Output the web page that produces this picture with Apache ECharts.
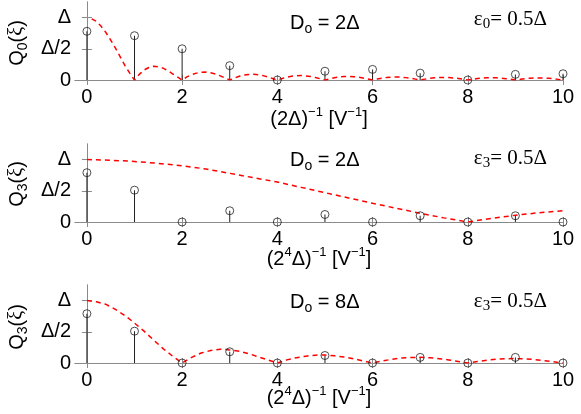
<!DOCTYPE html>
<html><head><meta charset="utf-8">
<script src="https://cdn.jsdelivr.net/npm/echarts@6/dist/echarts.min.js"></script>
<style>html,body{margin:0;padding:0;background:#fff}#c{width:581px;height:414px}</style>
</head><body><div id="c"></div>
<script>
// ---- data (values in units of Δ) ----
const stemX = [0,1,2,3,4,5,6,7,8,9,10];
const stem1 = [0.78,0.71,0.50,0.23,0.00,0.14,0.17,0.11,0.00,0.09,0.10];
const stem2 = [0.79,0.51,0.00,0.18,0.00,0.12,0.00,0.10,0.00,0.10,0.00];
const stem3 = [0.79,0.51,0.00,0.18,0.00,0.12,0.00,0.09,0.00,0.09,0.00];

// red dashed curves, sampled at the x positions given by start/step
const curve1Start = 0.1, curve1Step = 0.1;
const curve1 = [0.98,0.94,0.86,0.76,0.64,0.51,0.37,0.23,0.11,0.00,
  0.09,0.16,0.20,0.22,0.21,0.19,0.15,0.10,0.05,0.00,
  0.05,0.085,0.11,0.126,0.127,0.116,0.095,0.067,0.034,0.00,
  0.032,0.059,0.078,0.089,0.091,0.084,0.070,0.049,0.025,0.00,
  0.024,0.045,0.060,0.069,0.071,0.066,0.055,0.039,0.020,0.00,
  0.019,0.036,0.049,0.056,0.058,0.054,0.045,0.032,0.017,0.00,
  0.016,0.030,0.041,0.047,0.049,0.046,0.038,0.028,0.014,0.00,
  0.014,0.026,0.035,0.041,0.042,0.040,0.033,0.024,0.012,0.00,
  0.012,0.023,0.031,0.036,0.037,0.035,0.030,0.021,0.011,0.00,
  0.011,0.020,0.028,0.032,0.034,0.032,0.027,0.019,0.010,0.00];
const curve2Start = 0, curve2Step = 0.5;
const curve2 = [1.00,0.99,0.97,0.94,0.90,0.85,0.78,0.71,0.64,0.555,0.47,0.385,0.30,0.22,0.14,0.066,0.00,0.058,0.108,0.149,0.18];
const curve3Start = 0, curve3Step = 0.2;
const curve3 = [1.00,0.98,0.94,0.86,0.76,0.64,0.51,0.37,0.23,0.11,0.00,
  0.09,0.16,0.20,0.22,0.21,0.19,0.15,0.10,0.05,0.00,
  0.05,0.085,0.11,0.126,0.127,0.116,0.095,0.067,0.034,0.00,
  0.032,0.059,0.078,0.089,0.091,0.084,0.070,0.049,0.025,0.00,
  0.024,0.045,0.060,0.069,0.071,0.066,0.055,0.039,0.020,0.00];

const xTicks = [0,2,4,6,8,10];
const yTicks = [0,0.5,1];
const yTickLabels = {0:'0',0.5:'Δ/2',1:'Δ'};

// ---- layout ----
const FONT = 'Liberation Sans, Arial, Helvetica, sans-serif';
const SERIF = 'Liberation Serif, Times New Roman, serif';
const GRAY = '#8a8a8a';
const DARK = '#222';
const grids = [
  {left:75, top:2, width:488, height:78},
  {left:75, top:144, width:488, height:78},
  {left:75, top:285, width:488, height:78}
];
const xAxes = [], yAxes = [], series = [];
function zip(xs, ys){ return xs.map((x,i)=>[x, ys[i]]); }
function curveData(start, step, ys){ return ys.map((y,i)=>[+(start+i*step).toFixed(3), y]); }
const stems = [stem1, stem2, stem3];
const curves = [curveData(curve1Start,curve1Step,curve1), curveData(curve2Start,curve2Step,curve2), curveData(curve3Start,curve3Step,curve3)];

grids.forEach((g,i)=>{
  const tick = {show:true, inside:true, length:5, lineStyle:{color:GRAY, width:1}, customValues:xTicks};
  xAxes.push({gridIndex:i, type:'value', min:-0.25, max:10, position:'bottom',
    axisLine:{show:true, lineStyle:{color:GRAY}}, splitLine:{show:false},
    axisTick:tick,
    axisLabel:{show:true, customValues:xTicks, color:'#000', fontFamily:FONT, fontSize:20, margin:7}});
  xAxes.push({gridIndex:i, type:'value', min:-0.25, max:10, position:'top',
    axisLine:{show:true, lineStyle:{color:GRAY}}, splitLine:{show:false},
    axisTick:tick, axisLabel:{show:false}});
  const ytick = {show:true, inside:true, length:5, lineStyle:{color:GRAY, width:1}, customValues:yTicks};
  yAxes.push({gridIndex:i, type:'value', min:0, max:1.25, position:'left',
    axisLine:{show:true, lineStyle:{color:GRAY}}, splitLine:{show:false},
    axisTick:ytick,
    axisLabel:{show:true, customValues:yTicks, formatter:v=>yTickLabels[v] ?? '', color:'#000', fontFamily:FONT, fontSize:20, margin:4}});
  yAxes.push({gridIndex:i, type:'value', min:0, max:1.25, position:'right',
    axisLine:{show:true, lineStyle:{color:GRAY}}, splitLine:{show:false},
    axisTick:ytick, axisLabel:{show:false}});
  series.push({type:'bar', xAxisIndex:2*i, yAxisIndex:2*i, data:zip(stemX, stems[i]), barWidth:1,
    itemStyle:{color:DARK}, silent:true, animation:false, z:2});
  series.push({type:'line', xAxisIndex:2*i, yAxisIndex:2*i, data:curves[i], showSymbol:false,
    lineStyle:{color:'#ff0000', width:1.5, type:[5,4]}, animation:false, z:3, clip:true});
  series.push({type:'scatter', xAxisIndex:2*i, yAxisIndex:2*i, data:zip(stemX, stems[i]), symbol:'circle', symbolSize:8,
    itemStyle:{color:'rgba(0,0,0,0)', borderColor:DARK, borderWidth:1}, animation:false, z:4});
});

const rich = {
  n:{fontFamily:FONT, fontSize:20, color:'#000', lineHeight:26},
  sup:{fontFamily:FONT, fontSize:13, color:'#000', lineHeight:12, verticalAlign:'top'},
  sub:{fontFamily:FONT, fontSize:14, color:'#000', lineHeight:16, verticalAlign:'bottom'},
  s:{fontFamily:SERIF, fontSize:21, color:'#000', lineHeight:26},
  ssub:{fontFamily:SERIF, fontSize:15, color:'#000', lineHeight:16, verticalAlign:'bottom'},
  g:{fontFamily:SERIF, fontSize:20, color:'#000', lineHeight:26}
};
function txt(x, y, text, align, rot){
  return {type:'text', x:x, y:y, rotation:rot||0, z:10,
    style:{text:text, rich:rich, align:align||'center', verticalAlign:'middle'}};
}
const graphic = [
  txt(17, 43, '{n|Q}{sub|0}{n|(}{g|ξ}{n|)}', 'center', Math.PI/2),
  txt(17, 184, '{n|Q}{sub|3}{n|(}{g|ξ}{n|)}', 'center', Math.PI/2),
  txt(17, 327, '{n|Q}{sub|3}{n|(}{g|ξ}{n|)}', 'center', Math.PI/2),
  txt(319, 119, '{n|(2Δ)}{sup|−1}{n| [V}{sup|−1}{n|]}'),
  txt(319, 259, '{n|(2}{sup|4}{n|Δ)}{sup|−1}{n| [V}{sup|−1}{n|]}'),
  txt(319, 398, '{n|(2}{sup|4}{n|Δ)}{sup|−1}{n| [V}{sup|−1}{n|]}'),
  txt(290, 23, '{n|D}{sub|o}{n| = 2Δ}', 'left'),
  txt(290, 160, '{n|D}{sub|o}{n| = 2Δ}', 'left'),
  txt(290, 302, '{n|D}{sub|o}{n| = 8Δ}', 'left'),
  txt(547, 19, '{s|ε}{ssub|0}{s|= 0.5Δ}', 'right'),
  txt(547, 158, '{s|ε}{ssub|3}{s|= 0.5Δ}', 'right'),
  txt(547, 301, '{s|ε}{ssub|3}{s|= 0.5Δ}', 'right')
];

const chart = echarts.init(document.getElementById('c'), null, {renderer:'canvas'});
chart.setOption({
  animation:false,
  backgroundColor:'#fff',
  grid:grids.map(g=>Object.assign({show:false, containLabel:false}, g)),
  xAxis:xAxes, yAxis:yAxes, series:series, graphic:graphic
});
</script></body></html>
